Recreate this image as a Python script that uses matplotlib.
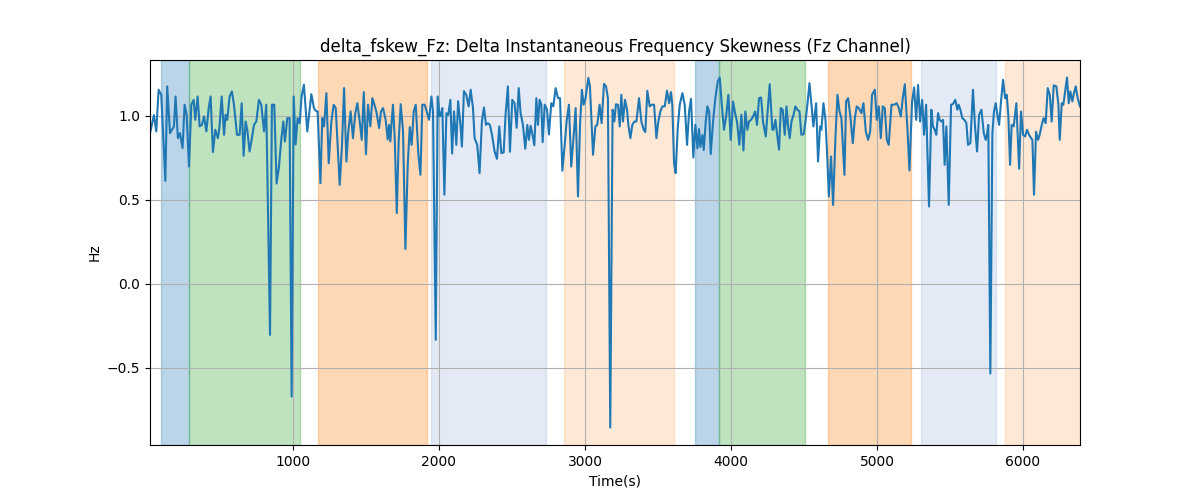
import numpy as np
import matplotlib
matplotlib.use('Agg')
import matplotlib.pyplot as plt

# 時刻(s)
time_s = [
    21, 48, 64, 80, 98, 126, 139, 158, 171, 185, 196, 212, 226, 244, 258, 272, 288, 304, 320, 331,
    347, 361, 377, 391, 407, 423, 436, 452, 468, 486, 496, 512, 528, 539, 550, 566, 582, 596, 617, 635,
    649, 662, 676, 687, 703, 719, 733, 749, 767, 783, 802, 817, 843, 856, 872, 888, 904, 920, 934, 945,
    961, 977, 991, 1005, 1018, 1032, 1046, 1059, 1075, 1098,
    1126, 1144, 1156, 1169, 1188, 1201, 1213, 1229, 1245, 1263, 1279, 1293, 1320, 1336, 1350, 1366, 1379,
    1395, 1411, 1427, 1441, 1457, 1471, 1485, 1500, 1514, 1530, 1544, 1558, 1571, 1590, 1603, 1617, 1635,
    1649, 1658, 1667, 1676, 1685, 1697, 1711, 1724, 1738, 1754, 1770, 1786, 1800, 1813, 1827, 1841, 1859,
    1873, 1886, 1902, 1916, 1932, 1948, 1959, 1978, 1991, 2005, 2014, 2023, 2037, 2051, 2064, 2078, 2090,
    2103, 2119, 2131, 2147,
    2157, 2171, 2187, 2203, 2217, 2233, 2244, 2262, 2278, 2294, 2308, 2322, 2335, 2349, 2363, 2381, 2397,
    2413, 2427, 2443, 2456, 2472, 2486, 2502, 2518, 2532, 2546, 2559, 2575, 2591, 2605, 2616, 2628, 2641,
    2653, 2667, 2678, 2689, 2701, 2710, 2724, 2740, 2753, 2769, 2783, 2799, 2815, 2829, 2845, 2861, 2874,
    2890, 2906, 2922, 2936, 2952, 2966, 2979, 2991, 3004, 3023, 3034, 3055, 3071, 3084, 3100, 3114, 3130,
    3144, 3157, 3173, 3189, 3201, 3212, 3226,
    3238, 3249, 3260, 3274, 3288, 3297, 3311, 3324, 3338, 3352, 3370, 3386, 3402, 3413, 3427, 3443, 3457,
    3473, 3489, 3502, 3516, 3530, 3546, 3562, 3576, 3589, 3598, 3610, 3621, 3635, 3649, 3667, 3683, 3699,
    3713, 3726, 3742, 3756, 3770, 3781, 3790, 3804, 3813, 3827, 3838, 3850, 3861, 3877, 3893, 3909, 3923,
    3936, 3952, 3968, 3982, 3998, 4014, 4028, 4041, 4057, 4071, 4085, 4098, 4112, 4123, 4137, 4151, 4165,
    4178, 4192, 4206, 4219, 4238, 4251, 4265, 4283,
    4291, 4304, 4316, 4329, 4341, 4354, 4368, 4380, 4391, 4402, 4414, 4428, 4441, 4455, 4469, 4482, 4498,
    4510, 4523, 4537, 4551, 4564, 4583, 4596, 4610, 4619, 4633, 4647, 4660, 4670, 4685, 4699, 4715, 4729,
    4743, 4756, 4777, 4788, 4802, 4816, 4834, 4848, 4861, 4875, 4893, 4907, 4923, 4939, 4953, 4966, 4985,
    4998, 5012, 5026, 5039, 5053, 5067, 5080, 5099, 5117, 5135, 5149, 5163, 5176, 5190, 5208, 5222, 5240,
    5254, 5268, 5281, 5295, 5309, 5322, 5336,
    5356, 5372, 5383, 5395, 5406, 5418, 5429, 5441, 5452, 5463, 5475, 5491, 5507, 5520, 5536, 5550, 5559,
    5571, 5584, 5598, 5612, 5623, 5639, 5657, 5671, 5685, 5699, 5715, 5731, 5744, 5753, 5762, 5776, 5790,
    5801, 5813, 5826, 5836, 5849, 5863, 5877, 5888, 5899, 5911, 5922, 5936, 5954, 5973, 5986, 6000, 6014,
    6027, 6041, 6055, 6064, 6075, 6089, 6103, 6114, 6128, 6141, 6155, 6169, 6183, 6196, 6210, 6228, 6242,
    6251, 6265, 6276, 6288, 6301, 6313, 6324, 6338, 6347, 6361, 6374, 6390,
]

# delta_fskew_Fz (Hz)
fskew = [
    0.897, 1.004, 0.907, 1.155, 1.125, 0.613, 1.175, 0.897, 0.917, 0.937, 1.115, 0.867, 0.897, 0.808,
    1.066, 1.006, 0.698, 1.066, 1.095, 0.976, 1.115, 0.937, 0.946, 0.996, 0.907, 1.046, 1.115, 0.784,
    0.917, 0.867, 0.927, 1.115, 0.887, 1.006, 0.976, 1.115, 1.145, 1.066, 0.887, 0.887, 1.075, 0.762,
    0.966, 0.917, 0.788, 0.867, 0.946, 0.966, 1.095, 1.066, 0.907, 1.066, -0.304, 1.066, 1.066, 0.597,
    0.696, 0.857, 0.966, 0.847, 0.986, 0.986, -0.671, 1.115, 0.829, 0.986, 0.956, 1.115, 1.185, 0.907,
    1.129, 1.046, 1.030, 1.026, 0.599, 0.986, 0.937, 1.135, 0.718, 0.966, 1.066, 1.046, 0.589, 0.827,
    1.165, 0.728, 0.907, 1.026, 0.867, 1.016, 1.075, 0.966, 0.857, 1.141, 0.772, 1.066, 0.937, 1.105,
    1.066, 1.026, 0.927, 1.026, 1.046, 0.976, 0.859, 0.946, 0.847, 0.966, 1.066, 0.867, 0.421, 0.847,
    1.069, 0.907, 0.208, 0.708, 0.933, 0.827, 1.026, 1.066, 0.768, 0.649, 1.066, 1.066, 1.026, 0.976,
    1.115, 1.026, -0.333, 1.115, 0.996, 1.006, 1.046, 0.530, 1.016, 1.006, 1.095, 0.776, 1.026, 0.827,
    1.087, 0.946,
    0.817, 1.147, 1.125, 1.056, 1.155, 1.046, 0.867, 0.827, 0.659, 0.966, 1.050, 0.946, 0.956, 0.946,
    0.887, 0.788, 0.744, 0.937, 0.778, 0.782, 1.006, 1.175, 0.786, 1.095, 1.075, 0.929, 1.165, 1.016,
    0.946, 0.804, 0.946, 0.857, 0.940, 0.885, 0.825, 1.105, 0.946, 1.095, 1.066, 0.843, 1.066, 1.036,
    0.889, 1.075, 1.056, 1.165, 1.105, 1.105, 0.673, 0.827, 0.966, 1.066, 0.698, 0.877, 1.046, 0.520,
    0.946, 1.155, 1.066, 1.105, 1.226, 1.173, 0.768, 0.937, 0.946, 1.066, 0.956, 1.190, 1.175, 1.105,
    -0.855, 1.036, 0.966, 1.069, 1.065,
    0.937, 1.125, 0.966, 1.095, 1.036, 0.946, 0.867, 0.946, 0.966, 0.966, 1.105, 0.966, 0.917, 0.903,
    1.149, 1.056, 1.066, 1.066, 0.867, 0.966, 1.026, 1.056, 1.056, 1.149, 1.075, 1.141, 1.066, 0.718,
    0.659, 0.927, 1.066, 1.135, 1.066, 0.827, 1.026, 1.101, 0.752, 0.946, 0.806, 0.921, 0.815, 0.885,
    0.796, 0.966, 1.056, 1.026, 0.772, 0.966, 1.105, 1.204, 1.228, 1.075, 0.917, 1.006, 1.125, 0.857,
    1.085, 1.016, 0.966, 0.827, 1.006, 0.794, 1.026, 0.917, 0.966, 0.976, 0.996, 1.026, 0.946, 1.105,
    1.109, 0.966, 0.877, 1.026, 1.188, 0.917,
    0.917, 0.976, 0.887, 0.798, 1.046, 1.036, 0.887, 1.056, 0.937, 0.867, 0.966, 1.006, 1.056, 1.036,
    1.026, 0.887, 0.891, 0.966, 1.066, 1.194, 1.066, 0.937, 1.075, 0.728, 0.937, 0.917, 1.075, 0.976,
    0.738, 0.520, 0.758, 0.470, 0.867, 1.125, 1.026, 0.986, 0.649, 1.085, 1.105, 1.006, 0.837, 0.986,
    1.056, 1.046, 1.016, 1.075, 0.907, 0.857, 0.907, 1.125, 1.155, 0.976, 1.056, 0.867, 1.056, 1.046,
    0.857, 0.827, 1.066, 1.066, 1.075, 1.046, 0.996, 1.105, 1.188, 0.927, 0.675, 1.085, 1.169, 0.976,
    1.184, 0.966, 1.095, 0.887, 1.066,
    0.460, 1.036, 0.937, 0.917, 0.887, 1.016, 0.976, 0.966, 0.976, 0.708, 0.937, 0.470, 1.066, 1.070,
    1.095, 1.036, 1.066, 1.036, 0.986, 0.976, 0.956, 0.827, 0.837, 1.155, 0.937, 0.788, 1.006, 1.036,
    0.897, 0.857, 0.887, 0.946, -0.534, 0.897, 1.026, 1.075, 0.996, 0.946, 1.085, 1.214, 1.105, 1.125,
    1.006, 0.708, 0.946, 0.937, 1.075, 0.685, 1.026, 0.887, 0.877, 0.917, 0.887, 0.867, 0.857, 0.530,
    0.905, 0.857, 0.887, 0.946, 0.986, 0.956, 1.165, 1.125, 0.966, 1.181, 1.175, 1.066, 0.857, 1.075,
    1.066, 1.145, 1.228, 1.075, 1.145, 1.085, 1.129, 1.175, 1.105, 1.056,
]

# 区間 (開始, 終了, 色, 透明度)
span_start = [94, 286, 1172, 1946, 2857, 3754, 3920, 4665, 5302, 5877]
span_end = [286, 1046, 1918, 2731, 3608, 3920, 4505, 5235, 5813, 6390]
span_color = ['C0', 'C2', 'C1', '#6a8fc9', 'C1', 'C0', 'C2', 'C1', '#6a8fc9', 'C1']
span_alpha = [0.3, 0.3, 0.3, 0.18, 0.17, 0.3, 0.3, 0.3, 0.18, 0.17]

fig, ax = plt.subplots(figsize=(12, 5), dpi=100)

for s, e, c, a in zip(span_start, span_end, span_color, span_alpha):
    ax.axvspan(s, e, color=c, alpha=a)

ax.plot(time_s, fskew, color='C0')
ax.set_xlim(time_s[0], time_s[-1])
ax.set_title('delta_fskew_Fz: Delta Instantaneous Frequency Skewness (Fz Channel)')
ax.set_xlabel('Time(s)')
ax.set_ylabel('Hz')
ax.grid(True)

plt.savefig('out.png')
